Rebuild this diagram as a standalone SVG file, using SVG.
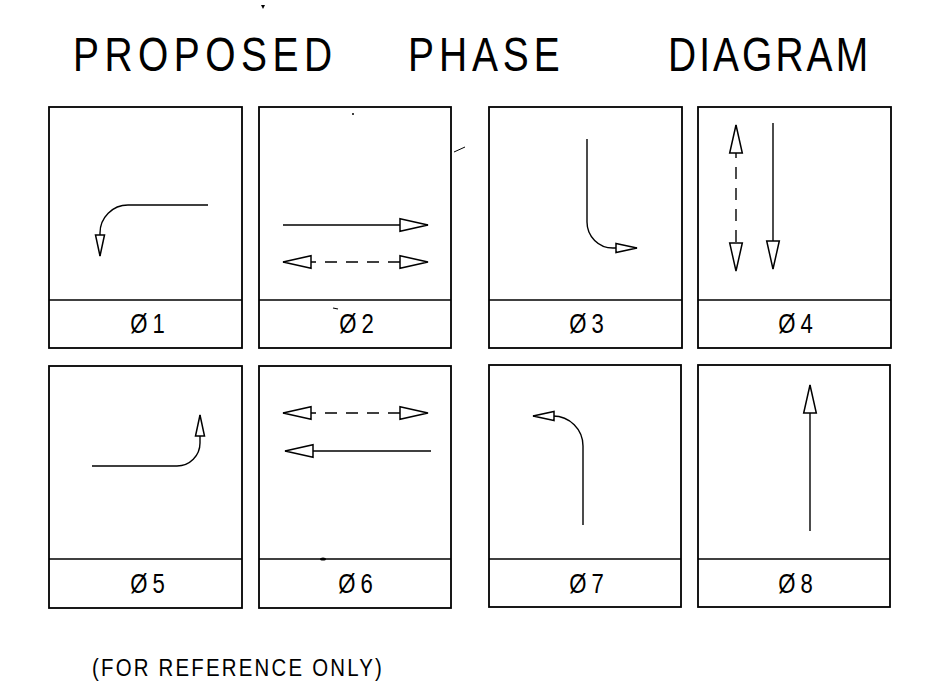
<svg xmlns="http://www.w3.org/2000/svg" width="932" height="695" viewBox="0 0 932 695">
  <style>
    .frame { fill: none; stroke: #000; stroke-width: 1.8; }
    .div { stroke: #000; stroke-width: 1.6; }
    .lbl { font-family: "Liberation Sans", Arial, sans-serif; font-size: 27px; fill: #000; text-anchor: middle; letter-spacing: 6px; }
    .title { font-family: "Liberation Sans", Arial, sans-serif; font-size: 47.5px; fill: #000; }
    .note { font-family: "Liberation Sans", Arial, sans-serif; font-size: 24px; fill: #000; }
    .arr { fill: none; stroke: #000; stroke-width: 1.4; }
    .dash { stroke-dasharray: 12 9; }
    .big { marker-end: url(#headBig); }
    .big2 { marker-start: url(#headBig); marker-end: url(#headBig); }
    .small { marker-end: url(#headSmall); }
  </style>
  <defs>
    <marker id="headBig" viewBox="0 0 28 14" refX="28" refY="7" markerWidth="28" markerHeight="14" markerUnits="userSpaceOnUse" orient="auto-start-reverse" overflow="visible">
      <path d="M0,0.7 L28,7 L0,13.3 Z" fill="#fff" stroke="#000" stroke-width="1.5" stroke-linejoin="miter"/>
    </marker>
    <marker id="headSmall" viewBox="0 0 21 10" refX="21" refY="5" markerWidth="21" markerHeight="10" markerUnits="userSpaceOnUse" orient="auto-start-reverse" overflow="visible">
      <path d="M0,0.5 L21,5 L0,9.5 Z" fill="#fff" stroke="#000" stroke-width="1.5" stroke-linejoin="miter"/>
    </marker>
  </defs>
  <rect width="932" height="695" fill="#fff"/>

  <g id="title">
    <text class="title" transform="translate(73,71) scale(0.82,1)" textLength="316" lengthAdjust="spacing">PROPOSED</text>
    <text class="title" transform="translate(408,71) scale(0.82,1)" textLength="185" lengthAdjust="spacing">PHASE</text>
    <text class="title" transform="translate(668,71) scale(0.82,1)" textLength="244" lengthAdjust="spacing">DIAGRAM</text>
  </g>

  <g id="phase1">
    <rect class="frame" x="49" y="107" width="193" height="241"/>
    <line class="div" x1="49" y1="300" x2="242" y2="300"/>
    <text class="lbl" transform="translate(150,333) scale(0.82,1)">Ø1</text>
  </g>
  <g id="phase2">
    <rect class="frame" x="259" y="107" width="192" height="241"/>
    <line class="div" x1="259" y1="300" x2="451" y2="300"/>
    <text class="lbl" transform="translate(359,333) scale(0.82,1)">Ø2</text>
  </g>
  <g id="phase3">
    <rect class="frame" x="489" y="107" width="193" height="241"/>
    <line class="div" x1="489" y1="300" x2="682" y2="300"/>
    <text class="lbl" transform="translate(589,333) scale(0.82,1)">Ø3</text>
  </g>
  <g id="phase4">
    <rect class="frame" x="698" y="107" width="193" height="241"/>
    <line class="div" x1="698" y1="300" x2="891" y2="300"/>
    <text class="lbl" transform="translate(798,333) scale(0.82,1)">Ø4</text>
  </g>
  <g id="phase5">
    <rect class="frame" x="49" y="366" width="193" height="242"/>
    <line class="div" x1="49" y1="559" x2="242" y2="559"/>
    <text class="lbl" transform="translate(150,593) scale(0.82,1)">Ø5</text>
  </g>
  <g id="phase6">
    <rect class="frame" x="259" y="366" width="192" height="242"/>
    <line class="div" x1="259" y1="559" x2="451" y2="559"/>
    <text class="lbl" transform="translate(358,593) scale(0.82,1)">Ø6</text>
  </g>
  <g id="phase7">
    <rect class="frame" x="489" y="365" width="192" height="242"/>
    <line class="div" x1="489" y1="559" x2="681" y2="559"/>
    <text class="lbl" transform="translate(589,593) scale(0.82,1)">Ø7</text>
  </g>
  <g id="phase8">
    <rect class="frame" x="698" y="365" width="192" height="242"/>
    <line class="div" x1="698" y1="559" x2="890" y2="559"/>
    <text class="lbl" transform="translate(798,593) scale(0.82,1)">Ø8</text>
  </g>

  <g id="connectors">
    <path class="arr small" d="M208,205 H128 A28,28 0 0 0 100,233 V256"/>
    <path class="arr big" d="M283,225 H428"/>
    <path class="arr dash big2" d="M283,262 H428"/>
    <path class="arr small" d="M587,139 V222 A26,26 0 0 0 613,248 H637"/>
    <path class="arr dash big2" d="M736,125 V271"/>
    <path class="arr big" d="M773,123 V269"/>
    <path class="arr small" d="M92,466 H177 A23,23 0 0 0 200,443 V415"/>
    <path class="arr dash big2" d="M283,413 H428"/>
    <path class="arr big" d="M431,451 H285"/>
    <path class="arr small" d="M583,525 V446 A30,30 0 0 0 553,416 H533"/>
    <path class="arr big" d="M810,531 V385"/>
  </g>

  <g id="marks" fill="#000" stroke="#000">
    <path d="M261,5 L265,5 L263,9 Z" stroke="none"/>
    <circle cx="353" cy="114" r="1" stroke="none"/>
    <line x1="454" y1="152" x2="465" y2="147" stroke-width="1"/>
    <line x1="333" y1="308" x2="338" y2="309" stroke-width="1.2"/>
    <ellipse cx="323" cy="559" rx="3" ry="1.6" stroke="none"/>
  </g>

  <text class="note" transform="translate(92,676) scale(0.85,1)" textLength="341" lengthAdjust="spacing">(FOR REFERENCE ONLY)</text>
</svg>
